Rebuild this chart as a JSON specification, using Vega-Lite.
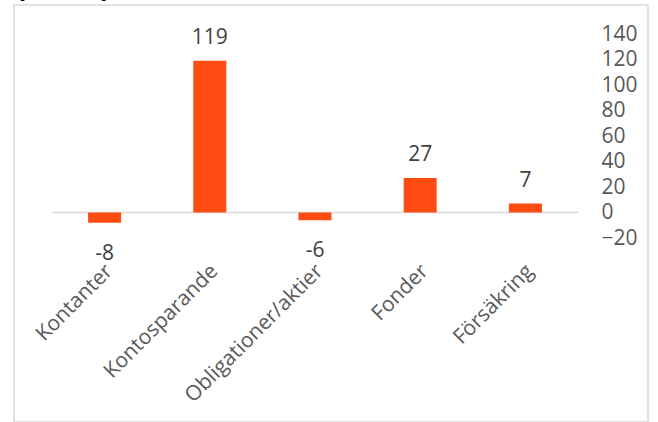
{
  "$schema": "https://vega.github.io/schema/vega-lite/v6.json",
  "width": 634,
  "height": 417,
  "autosize": {"type": "none"},
  "padding": {"left": 14, "top": 5, "right": 10, "bottom": 0},
  "background": "white",
  "title": {"text": "(mdkr)", "anchor": "start", "frame": "group", "orient": "top", "baseline": "alphabetic", "offset": -20, "fontSize": 28, "font": "Open Sans", "fontWeight": "bold", "color": "#000000", "dx": 2},
  "config": {"view": {"stroke": "#d9d9d9", "strokeWidth": 1.5}, "font": "Open Sans"},
  "data": {"values": [
    {"cat": "Kontanter", "value": -8},
    {"cat": "Kontosparande", "value": 119},
    {"cat": "Obligationer/aktier", "value": -6},
    {"cat": "Fonder", "value": 27},
    {"cat": "Försäkring", "value": 7}
  ]},
  "layer": [
    {
      "mark": {"type": "bar", "color": "#FF4C13"},
      "encoding": {
        "x": {"field": "cat", "type": "nominal", "sort": null,
          "scale": {"type": "band", "domain": ["Kontanter", "Kontosparande", "Obligationer/aktier", "Fonder", "Försäkring"], "range": [38, 564], "paddingInner": 0.686, "paddingOuter": 0.343},
          "axis": {"orient": "bottom", "offset": -210, "labels": false, "ticks": false, "domain": true, "domainColor": "#d9d9d9", "domainWidth": 1.5, "title": null, "grid": false}},
        "y": {"field": "value", "type": "quantitative",
          "scale": {"domain": [-20, 140], "range": [233, 29], "nice": false},
          "axis": {"orient": "right", "offset": -47, "ticks": false, "domain": false, "grid": false, "labelPadding": 0, "labelAlign": "left", "values": [-20, 0, 20, 40, 60, 80, 100, 120, 140], "labelFontSize": 21, "labelColor": "#595959", "labelFont": "Open Sans", "title": null}}
      }
    },
    {
      "transform": [{"filter": "datum.value >= 0"}],
      "mark": {"type": "text", "baseline": "alphabetic", "dy": -17, "fontSize": 21, "color": "#404040", "font": "Open Sans"},
      "encoding": {
        "x": {"field": "cat", "type": "nominal", "sort": null,
          "axis": {"orient": "bottom", "offset": -162, "domain": false, "ticks": false, "grid": false, "labelAngle": -45, "labelAlign": "right", "labelBaseline": "top", "labelPadding": 0, "labelFontSize": 21, "labelColor": "#595959", "labelFont": "Open Sans", "labelOffset": -3, "labelLimit": 0, "labelOverlap": false, "title": null}},
        "y": {"field": "value", "type": "quantitative"},
        "text": {"field": "value", "type": "nominal"}
      }
    },
    {
      "transform": [{"filter": "datum.value < 0"}],
      "mark": {"type": "text", "baseline": "top", "dy": 20, "fontSize": 21, "color": "#404040", "font": "Open Sans"},
      "encoding": {
        "x": {"field": "cat", "type": "nominal", "sort": null, "axis": null},
        "y": {"field": "value", "type": "quantitative"},
        "text": {"field": "value", "type": "nominal"}
      }
    }
  ],
  "resolve": {"axis": {"x": "independent"}}
}
